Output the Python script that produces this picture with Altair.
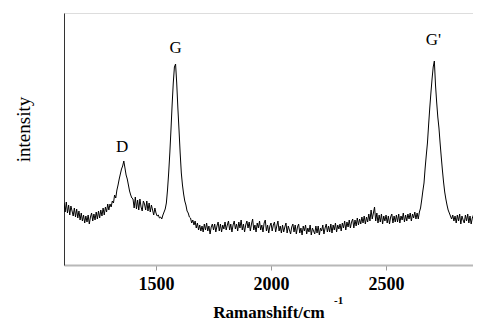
import altair as alt
import pandas as pd

# Raman shift (cm^-1), sampled every 5 cm^-1 from 1100 to 2915
shift_start = 1100
shift_step = 5
intensity = [
    62, 53, 63, 52, 60, 50, 59, 54, 49, 57,      # 1100-1145
    48, 56, 47, 54, 45, 52, 44, 50, 42, 49,      # 1150-1195
    43, 50, 41, 48, 52, 44, 51, 45, 53, 46,      # 1200-1245
    54, 47, 55, 49, 57, 50, 58, 53, 61, 55,      # 1250-1295
    61, 58, 64, 62, 70, 67, 75, 80, 86, 91,      # 1300-1345
    96, 99, 104, 97, 90, 86, 80, 74, 70, 67,     # 1350-1395
    66, 57, 68, 56, 65, 55, 66, 58, 54, 64,      # 1400-1445
    61, 55, 64, 54, 62, 53, 60, 55, 50, 57,      # 1450-1495
    52, 49, 50, 47, 48, 46, 50, 53, 56, 62,      # 1500-1545
    75, 92, 112, 135, 160, 182, 198, 201, 182, 157,  # 1550-1595
    135, 112, 92, 80, 71, 64, 60, 54, 52, 48,    # 1600-1645
    47, 42, 45, 40, 44, 37, 42, 35, 40, 34,      # 1650-1695
    39, 33, 41, 35, 42, 34, 39, 31, 38, 41,      # 1700-1745
    35, 41, 33, 39, 43, 34, 41, 33, 40, 36,      # 1750-1795
    43, 35, 40, 44, 35, 41, 33, 40, 44, 36,      # 1800-1845
    41, 34, 43, 37, 45, 35, 41, 33, 40, 44,      # 1850-1895
    37, 43, 34, 41, 46, 35, 40, 33, 42, 37,      # 1900-1945
    44, 35, 40, 33, 42, 45, 34, 40, 32, 39,      # 1950-1995
    42, 34, 40, 43, 33, 39, 44, 34, 39, 32,      # 2000-2045
    40, 33, 38, 42, 32, 39, 35, 31, 38, 41,      # 2050-2095
    33, 40, 31, 38, 41, 32, 37, 30, 39, 34,      # 2100-2145
    40, 31, 37, 33, 40, 30, 37, 34, 31, 39,      # 2150-2195
    32, 39, 30, 37, 34, 40, 31, 37, 41, 33,      # 2200-2245
    39, 33, 41, 32, 40, 35, 42, 33, 40, 36,      # 2250-2295
    41, 34, 42, 37, 44, 35, 43, 38, 45, 37,      # 2300-2345
    43, 46, 37, 45, 39, 47, 40, 46, 41, 48,      # 2350-2395
    42, 49, 41, 48, 43, 51, 44, 55, 46, 52,      # 2400-2445
    58, 44, 52, 42, 50, 43, 51, 41, 49, 44,      # 2450-2495
    50, 42, 49, 41, 48, 51, 42, 49, 43, 50,      # 2500-2545
    43, 51, 42, 49, 45, 52, 43, 50, 44, 51,      # 2550-2595
    46, 52, 44, 51, 47, 53, 46, 52, 46, 53,      # 2600-2645
    57, 65, 74, 82, 97, 110, 122, 140, 157, 172, # 2650-2695
    186, 198, 204, 180, 163, 148, 137, 122, 108, 95,  # 2700-2745
    83, 73, 66, 60, 55, 52, 49, 46, 50, 44,      # 2750-2795
    49, 42, 50, 44, 51, 41, 49, 45, 42, 50,      # 2800-2845
    44, 51, 42, 49, 41, 47, 50, 42, 49, 44,      # 2850-2895
    47, 41, 49, 44,                              # 2900-2915
]
shift = [shift_start + shift_step * i for i in range(len(intensity))]

peak_labels = ["D", "G", "G'"]
peak_shift = [1353, 1585, 2706]
peak_label_level = [113, 212, 220]

x_ticks = [1500, 2000, 2500]
x_domain = [1100, 2878]
y_domain = [0, 252]

spec = pd.DataFrame({"shift": shift, "intensity": intensity})
peaks = pd.DataFrame({"shift": peak_shift, "intensity": peak_label_level, "label": peak_labels})

SERIF = "Liberation Serif"

x_enc = alt.X(
    "shift:Q",
    scale=alt.Scale(domain=x_domain, nice=False, zero=False),
    axis=alt.Axis(
        values=x_ticks,
        format="d",
        title="Ramanshift/cm",
        grid=False,
        domainColor="#b8b8b8",
        domainWidth=2,
        tickColor="#999999",
        tickSize=5,
        labelFont=SERIF,
        labelFontSize=18,
        labelFontWeight="bold",
        labelColor="#000000",
        labelPadding=5,
        titleFont=SERIF,
        titleFontSize=17,
        titleFontWeight="bold",
        titleColor="#000000",
        titlePadding=11,
    ),
)
y_enc = alt.Y(
    "intensity:Q",
    scale=alt.Scale(domain=y_domain, nice=False, zero=True),
    axis=alt.Axis(
        title="intensity",
        labels=False,
        ticks=False,
        grid=False,
        domainColor="#333333",
        domainWidth=1,
        titleFont=SERIF,
        titleFontSize=19,
        titleFontWeight="normal",
        titleColor="#000000",
        titleAngle=270,
        titleX=-35,
        titleY=116,
        titleAlign="center",
        titleBaseline="alphabetic",
    ),
)

line = alt.Chart(spec).mark_line(color="#000000", strokeWidth=1, clip=True).encode(x=x_enc, y=y_enc)

labels = alt.Chart(peaks).mark_text(
    font=SERIF, fontSize=17, color="#000000", baseline="alphabetic", align="center"
).encode(x="shift:Q", y="intensity:Q", text="label:N")

sup = alt.Chart(pd.DataFrame({"t": ["-1"]})).mark_text(
    font=SERIF, fontSize=11, fontWeight="bold", color="#000000", align="left", baseline="alphabetic"
).encode(x=alt.value(270), y=alt.value(291), text="t:N")

chart = (
    alt.layer(line, labels, sup)
    .properties(
        width=409,
        height=252,
        autosize=alt.AutoSizeParams(type="none"),
        padding={"left": 56, "top": 5, "right": 0, "bottom": 58},
    )
    .configure_view(stroke=None)
    .configure(background="white")
)

chart.save("out.html", embed_options={"renderer": "svg", "actions": False})
